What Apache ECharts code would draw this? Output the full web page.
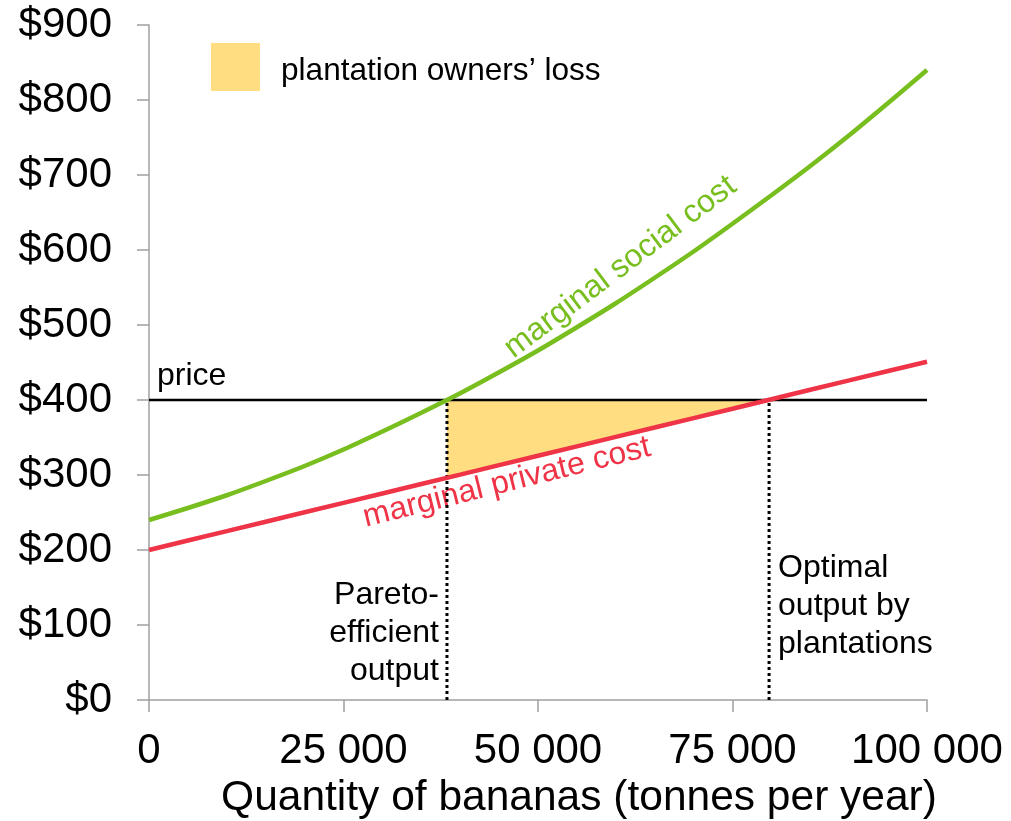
<!DOCTYPE html>
<html><head><meta charset="utf-8">
<script src="https://cdn.jsdelivr.net/npm/echarts@6/dist/echarts.min.js"></script>
<style>html,body{margin:0;padding:0;background:#fff}#c{width:1011px;height:821px}</style>
</head><body><div id="c"></div>
<script>
// ---- data ----
const quantities = [0,5000,10000,15000,20000,25000,30000,35000,40000,45000,50000,55000,60000,65000,70000,75000,80000,85000,90000,95000,100000];
const socialCost = [240,256,273,292,312,334,358,383,409,437,466,497,529,563,598,635,673,712,753,796,840];
const privateCost = [200,212.6,225.1,237.7,250.3,262.8,275.4,288,300.5,313.1,325.6,338.2,350.8,363.3,375.9,388.4,401,413.6,426.1,438.7,451];
const priceLevel = 400;
const priceRange = [0, 100000];
const paretoOutput = 38300;
const plantationOutput = 79700;
const lossQuantities = [38300, 79700, 38300];
const lossValues = [400, 400, 296];
const lossName = 'plantation owners\u2019 loss';

const FONT = 'Liberation Sans, Arial, sans-serif';
const chart = echarts.init(document.getElementById('c'), null, {renderer:'canvas'});

const zip = (xs, ys) => xs.map((x,i)=>[x, ys[i]]);
const fmtX = v => { const s = String(Math.round(v)); return s.length > 3 ? s.slice(0, s.length-3) + ' ' + s.slice(-3) : s; };

chart.setOption({
  animation:false,
  backgroundColor:'#fff',
  textStyle:{fontFamily:FONT},
  grid:{left:149,right:84,top:25,bottom:121,containLabel:false,outerBoundsMode:'none'},
  legend:{
    data:[{name:lossName, icon:'rect'}],
    left:206, top:38, itemWidth:49, itemHeight:48,
    formatter: n => '{a|' + n + '}',
    textStyle:{fontSize:31.6, color:'#000', fontFamily:FONT, padding:[0,0,0,16],
      rich:{a:{fontSize:31.6, color:'#000', fontFamily:FONT, padding:[8,0,0,0]}}}
  },
  xAxis:{
    type:'value', min:0, max:100000, interval:25000,
    name:'Quantity of bananas (tonnes per year)', nameLocation:'middle', nameGap:71,
    nameTextStyle:{fontSize:42.5, color:'#000', fontFamily:FONT, padding:[0,0,0,82]},
    axisLine:{show:true, lineStyle:{color:'#a0a0a0', width:1.5}},
    axisTick:{show:true, length:12, lineStyle:{color:'#a0a0a0', width:1.5}},
    axisLabel:{fontSize:42, color:'#000', margin:30, formatter:fmtX, fontFamily:FONT},
    splitLine:{show:false}
  },
  yAxis:{
    type:'value', min:0, max:900, interval:100,
    axisLine:{show:true, lineStyle:{color:'#a0a0a0', width:1.5}},
    axisTick:{show:true, length:12, lineStyle:{color:'#a0a0a0', width:1.5}},
    axisLabel:{fontSize:42, color:'#000', margin:37, formatter:v=>'$'+v, fontFamily:FONT},
    splitLine:{show:false}
  },
  series:[
    {
      name:lossName, type:'custom', z:1,
      itemStyle:{color:'#FFDD80'},
      data: zip(lossQuantities, lossValues),
      renderItem:(params, api)=>{
        if (params.dataIndex !== 0) return null;
        const pts = lossQuantities.map((q,i)=>api.coord([q, lossValues[i]]));
        return {type:'polygon', shape:{points:pts}, style:{fill:'#FFDD80'}};
      }
    },
    {
      name:'price', type:'line', z:3, symbol:'none', silent:true,
      data: zip(priceRange, [priceLevel, priceLevel]),
      lineStyle:{color:'#000', width:2.3}
    },
    {
      name:'pareto', type:'line', z:3, symbol:'none', silent:true,
      data:[[paretoOutput,0],[paretoOutput,priceLevel]],
      lineStyle:{color:'#000', width:3, type:'dotted'}
    },
    {
      name:'optimal', type:'line', z:3, symbol:'none', silent:true,
      data:[[plantationOutput,0],[plantationOutput,priceLevel]],
      lineStyle:{color:'#000', width:3, type:'dotted'}
    },
    {
      name:'marginal private cost', type:'line', z:4, symbol:'none', silent:true,
      data: zip(quantities, privateCost),
      lineStyle:{color:'#EE3446', width:4.5}
    },
    {
      name:'marginal social cost', type:'line', z:5, symbol:'none', smooth:0.3, silent:true,
      data: zip(quantities, socialCost),
      lineStyle:{color:'#77BE1E', width:4.5}
    }
  ]
});

const px = (x,y)=>chart.convertToPixel({gridIndex:0},[x,y]);
const pPrice = px(0, priceLevel);
const pPareto = px(paretoOutput, 0);
const pOpt = px(plantationOutput, 0);
const pSocial = px(60600, 577);
const pPrivate = px(46000, 290);
chart.setOption({
  graphic:[
    {type:'text', x:pPrice[0]+8, y:pPrice[1]-8, style:{text:'price', font:'32px '+FONT, fill:'#000', textAlign:'left', textVerticalAlign:'bottom'}},
    {type:'text', x:pPareto[0]-8, y:pPareto[1]-10, style:{text:'Pareto-\nefficient\noutput', font:'32px '+FONT, lineHeight:38, fill:'#000', textAlign:'right', textVerticalAlign:'bottom'}},
    {type:'text', x:pOpt[0]+9, y:pOpt[1]-37, style:{text:'Optimal\noutput by\nplantations', font:'32px '+FONT, lineHeight:38, fill:'#000', textAlign:'left', textVerticalAlign:'bottom'}},
    {type:'text', x:pSocial[0], y:pSocial[1], rotation:37*Math.PI/180, style:{text:'marginal social cost', font:'32px '+FONT, fill:'#77BE1E', textAlign:'center', textVerticalAlign:'middle'}},
    {type:'text', x:pPrivate[0], y:pPrivate[1], rotation:14*Math.PI/180, style:{text:'marginal private cost', font:'32px '+FONT, fill:'#EE3446', textAlign:'center', textVerticalAlign:'middle'}}
  ]
});
</script></body></html>
